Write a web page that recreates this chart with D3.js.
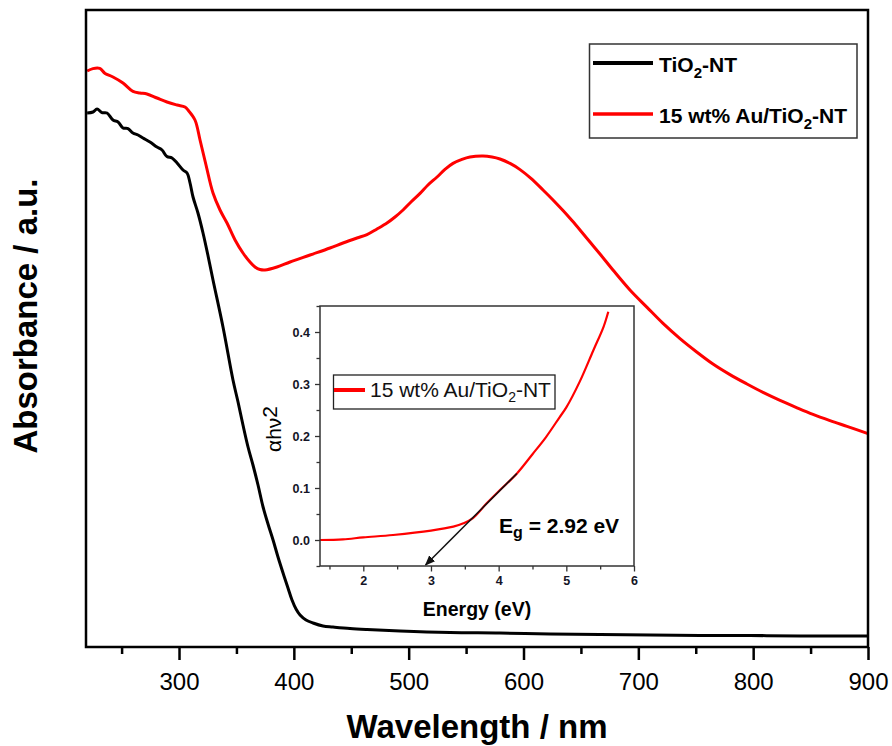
<!DOCTYPE html>
<html>
<head>
<meta charset="utf-8">
<script src="https://cdn.jsdelivr.net/npm/d3@7"></script>
<style>
  body { margin: 0; background: #fff; }
  svg { display: block; }
  text { font-family: "Liberation Sans", Arial, Helvetica, sans-serif; }
</style>
</head>
<body>
<svg id="chart" width="892" height="746"></svg>
<script>
// UV-vis absorbance spectra (arbitrary units)
const tio2Wavelength = [220,225.1,228.6,232.9,237.3,242.5,246.9,251.2,255.6,259.9,264.3,268.6,274.7,280.8,285.2,289.5,293.9,298.3,303.5,307,309.6,312.2,316.5,320.9,325.3,329.6,338.3,347,351.4,355.7,360.1,364.4,368.8,373.2,377.5,381.9,386.2,390.6,394.9,398.4,401.9,405.4,410.6,416.7,425.4,434.1,448.9,463.7,492.5,536,579.5,623.1,666.6,710.2,753.7,797.3,840.8,900];
const tio2Absorbance = [2.67,2.675,2.69,2.672,2.67,2.635,2.625,2.595,2.592,2.57,2.56,2.545,2.525,2.50,2.485,2.452,2.445,2.42,2.385,2.37,2.32,2.25,2.17,2.07,1.955,1.835,1.60,1.335,1.225,1.11,1.00,0.91,0.81,0.70,0.615,0.535,0.45,0.37,0.295,0.235,0.19,0.16,0.135,0.12,0.105,0.10,0.0925,0.0875,0.08,0.0725,0.07,0.065,0.0625,0.06,0.0575,0.0575,0.055,0.055];

const auWavelength = [220,225,231,235.6,242.5,251.2,259.9,266,272.1,280.8,289.5,298.3,305.2,307.8,313.9,318.3,323.5,329.6,335.7,341.8,348.8,355.7,361.8,366.2,370.5,374.9,385.3,396.7,414.1,431.5,442.8,455,463.7,472.4,481.1,488.1,495.1,502,509.9,516.8,524.7,531.6,538.6,546.4,553.4,564.7,572.6,579.5,588.3,597,606.5,617,625.7,634.4,642.2,649.2,657.9,666.6,677.9,692.7,707.6,721.5,736.3,751.1,765,779.8,794.6,808.6,823.4,838.2,852.1,866.9,881.7,900];
const auAbsorbance = [2.88,2.892,2.893,2.868,2.85,2.82,2.778,2.77,2.765,2.745,2.725,2.71,2.70,2.685,2.635,2.535,2.41,2.27,2.185,2.12,2.035,1.97,1.925,1.90,1.8875,1.885,1.90,1.925,1.96,1.995,2.02,2.045,2.062,2.09,2.12,2.15,2.185,2.225,2.268,2.31,2.35,2.388,2.418,2.438,2.45,2.455,2.45,2.44,2.418,2.387,2.343,2.285,2.235,2.182,2.132,2.085,2.025,1.965,1.885,1.785,1.698,1.618,1.542,1.474,1.415,1.362,1.315,1.273,1.233,1.196,1.163,1.132,1.103,1.067];

const wavelengthTicks = [300,400,500,600,700,800,900];
const wavelengthMinorTicks = [250,350,450,550,650,750,850];

// Tauc plot of the Au/TiO2 sample
const energyEV = [1.36,1.7,2.0,2.44,3.0,3.33,3.48,3.62,3.82,4.02,4.27,4.5,4.7,4.9,5.0,5.2,5.4,5.55,5.62];
const alphaHv2 = [0,0.0013,0.005,0.0096,0.018,0.0256,0.032,0.042,0.07,0.096,0.128,0.165,0.198,0.236,0.255,0.305,0.365,0.41,0.439];
const energyTicks = [2,3,4,5,6];
const energyMinorTicks = [1.5,2.5,3.5,4.5,5.5];
const alphaTicks = [0,0.1,0.2,0.3,0.4];
const alphaMinorTicks = [-0.05,0.05,0.15,0.25,0.35,0.45];
// Extrapolated linear edge, ending at the band gap
const tangentEnergy = [4.27, 2.92];
const tangentAlpha = [0.128, -0.048];
const bandGap = 2.92;

const svg = d3.select("#chart");

// ---------- main spectrum panel ----------
const plot = { left: 86, right: 868, top: 10, bottom: 647 };
const x = d3.scaleLinear().domain([219, 900]).range([plot.left, plot.right]);
const y = d3.scaleLinear().domain([0, 3.185]).range([plot.bottom, plot.top]);

const line = d3.line().x(d => x(d[0])).y(d => y(d[1])).curve(d3.curveCatmullRom.alpha(0.5));

svg.append("path")
  .datum(d3.zip(tio2Wavelength, tio2Absorbance))
  .attr("d", line).attr("fill", "none")
  .attr("stroke", "#000").attr("stroke-width", 3).attr("stroke-linejoin", "round");

svg.append("path")
  .datum(d3.zip(auWavelength, auAbsorbance))
  .attr("d", line).attr("fill", "none")
  .attr("stroke", "#ff0000").attr("stroke-width", 3).attr("stroke-linejoin", "round");

// x axis: major ticks with labels, minor ticks without
const xMajor = svg.append("g").attr("transform", `translate(0,${plot.bottom})`)
  .call(d3.axisBottom(x).tickValues(wavelengthTicks).tickSize(13).tickPadding(13).tickFormat(d3.format("d")));
const xMinor = svg.append("g").attr("transform", `translate(0,${plot.bottom})`)
  .call(d3.axisBottom(x).tickValues(wavelengthMinorTicks).tickSize(7).tickFormat(""));
[xMajor, xMinor].forEach(g => {
  g.select(".domain").remove();
  g.selectAll(".tick line").attr("stroke", "#000").attr("stroke-width", 2.5);
});
xMajor.selectAll(".tick text").attr("font-size", 24).attr("fill", "#000")
  .style("font-family", "'Liberation Sans', Arial, sans-serif");

// frame
svg.append("rect")
  .attr("x", plot.left).attr("y", plot.top)
  .attr("width", plot.right - plot.left).attr("height", plot.bottom - plot.top)
  .attr("fill", "none").attr("stroke", "#000").attr("stroke-width", 2.5);

// axis titles
svg.append("text")
  .attr("x", (plot.left + plot.right) / 2).attr("y", 738)
  .attr("text-anchor", "middle").attr("font-size", 33).attr("font-weight", "bold")
  .text("Wavelength / nm");
svg.append("text")
  .attr("transform", "translate(37,316) rotate(-90)")
  .attr("text-anchor", "middle").attr("font-size", 33).attr("font-weight", "bold")
  .text("Absorbance / a.u.");

// legend
const legend = svg.append("g");
legend.append("rect")
  .attr("x", 589.5).attr("y", 44).attr("width", 267.5).attr("height", 94)
  .attr("fill", "#fff").attr("stroke", "#333").attr("stroke-width", 1.5);
const legendItems = [
  { color: "#000", width: 4, y: 63, parts: ["TiO", "2", "-NT"] },
  { color: "#ff0000", width: 3.5, y: 114, parts: ["15 wt% Au/TiO", "2", "-NT"] }
];
legendItems.forEach(item => {
  legend.append("line")
    .attr("x1", 593).attr("x2", 653).attr("y1", item.y).attr("y2", item.y)
    .attr("stroke", item.color).attr("stroke-width", item.width);
  const t = legend.append("text")
    .attr("x", 659).attr("y", item.y + 9)
    .attr("font-size", 21).attr("font-weight", "bold").attr("fill", "#000");
  t.append("tspan").text(item.parts[0]);
  t.append("tspan").attr("dy", 6).attr("font-size", 15).text(item.parts[1]);
  t.append("tspan").attr("dy", -6).text(item.parts[2]);
});

// ---------- inset: Tauc plot ----------
const inset = { left: 320, right: 634, top: 306, bottom: 566 };
const xi = d3.scaleLinear().domain([1.36, 6]).range([inset.left, inset.right]);
const yi = d3.scaleLinear().domain([-0.05, 0.45]).range([inset.bottom, inset.top]);

svg.append("rect")
  .attr("x", inset.left).attr("y", inset.top)
  .attr("width", inset.right - inset.left).attr("height", inset.bottom - inset.top)
  .attr("fill", "#fff");

const insetLine = d3.line().x(d => xi(d[0])).y(d => yi(d[1])).curve(d3.curveCatmullRom.alpha(0.5));
svg.append("path")
  .datum(d3.zip(energyEV, alphaHv2))
  .attr("d", insetLine).attr("fill", "none")
  .attr("stroke", "#ff0000").attr("stroke-width", 2.2);

// tangent with arrowhead
svg.append("defs").append("marker")
  .attr("id", "arrow").attr("viewBox", "0 0 10 10")
  .attr("refX", 9).attr("refY", 5)
  .attr("markerWidth", 7).attr("markerHeight", 7)
  .attr("orient", "auto")
  .append("path").attr("d", "M0,1 L10,5 L0,9 Z").attr("fill", "#111");
svg.append("path")
  .datum(d3.zip(tangentEnergy, tangentAlpha))
  .attr("d", d3.line().x(d => xi(d[0])).y(d => yi(d[1])))
  .attr("fill", "none").attr("stroke", "#111").attr("stroke-width", 1.5)
  .attr("marker-end", "url(#arrow)");

const axisColor = "#333";
const xiMajor = svg.append("g").attr("transform", `translate(0,${inset.bottom})`)
  .call(d3.axisBottom(xi).tickValues(energyTicks).tickSize(5.5).tickPadding(5).tickFormat(d3.format("d")));
const xiMinor = svg.append("g").attr("transform", `translate(0,${inset.bottom})`)
  .call(d3.axisBottom(xi).tickValues(energyMinorTicks).tickSize(3.5).tickFormat(""));
const yiMajor = svg.append("g").attr("transform", `translate(${inset.left},0)`)
  .call(d3.axisLeft(yi).tickValues(alphaTicks).tickSize(5).tickPadding(5).tickFormat(d3.format(".1f")));
const yiMinor = svg.append("g").attr("transform", `translate(${inset.left},0)`)
  .call(d3.axisLeft(yi).tickValues(alphaMinorTicks).tickSize(3.5).tickFormat(""));
[xiMajor, xiMinor, yiMajor, yiMinor].forEach(g => {
  g.select(".domain").remove();
  g.selectAll(".tick line").attr("stroke", axisColor).attr("stroke-width", 1.3);
});
[xiMajor, yiMajor].forEach(g => {
  g.selectAll(".tick text").attr("font-size", 12.5).attr("font-weight", "bold").attr("fill", "#141426")
    .style("font-family", "'Liberation Sans', Arial, sans-serif");
});

svg.append("rect")
  .attr("x", inset.left).attr("y", inset.top)
  .attr("width", inset.right - inset.left).attr("height", inset.bottom - inset.top)
  .attr("fill", "none").attr("stroke", axisColor).attr("stroke-width", 1.5);

// inset titles
svg.append("text")
  .attr("x", (inset.left + inset.right) / 2).attr("y", 616)
  .attr("text-anchor", "middle").attr("font-size", 19.5).attr("font-weight", "bold")
  .text("Energy (eV)");
const yiTitle = svg.append("text")
  .attr("transform", "translate(281,429) rotate(-90)")
  .attr("text-anchor", "middle").attr("font-size", 21);
yiTitle.append("tspan").text("αhν");
yiTitle.append("tspan").attr("dy", -4).text("2");

// inset legend
svg.append("rect")
  .attr("x", 333.5).attr("y", 375).attr("width", 221.5).attr("height", 34)
  .attr("fill", "#fff").attr("stroke", "#222").attr("stroke-width", 1.3);
svg.append("line")
  .attr("x1", 334).attr("x2", 365).attr("y1", 390).attr("y2", 390)
  .attr("stroke", "#ff0000").attr("stroke-width", 4);
const il = svg.append("text").attr("x", 370).attr("y", 397).attr("font-size", 21).attr("fill", "#111");
il.append("tspan").text("15 wt% Au/TiO");
il.append("tspan").attr("dy", 5).attr("font-size", 14).text("2");
il.append("tspan").attr("dy", -5).text("-NT");

// band gap annotation
const eg = svg.append("text").attr("x", 499).attr("y", 533)
  .attr("font-size", 21).attr("font-weight", "bold").attr("fill", "#000");
eg.append("tspan").text("E");
eg.append("tspan").attr("dy", 5).attr("font-size", 16).text("g");
eg.append("tspan").attr("dy", -5).text(` = ${bandGap} eV`);
</script>
</body>
</html>
